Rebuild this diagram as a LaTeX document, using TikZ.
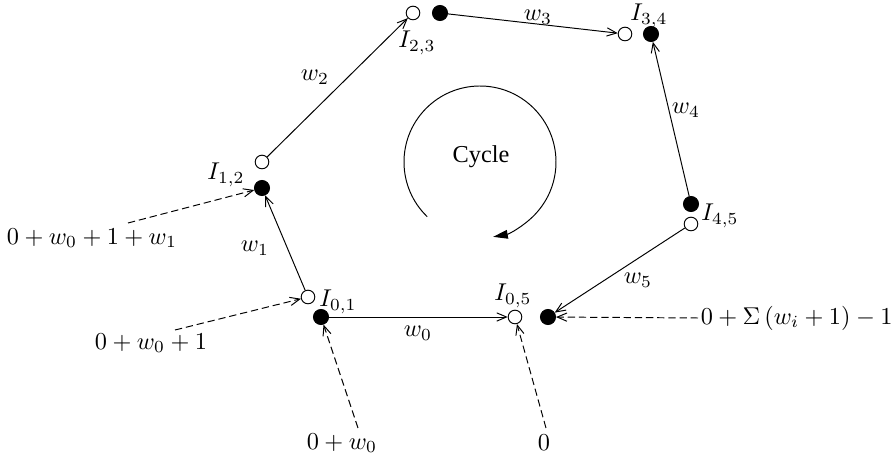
\documentclass[tikz,border=0pt]{standalone}
\usepackage[no-math]{fontspec}
\newfontfamily\cyclefont{Liberation Serif}
\usepackage{tikz}
\usetikzlibrary{arrows.meta}

\begin{document}
\begin{tikzpicture}[x=0.4115pt, y=-0.4115pt,
  fulldot/.style={circle, draw, fill=black, inner sep=0pt, minimum size=6.2pt},
  opendot/.style={circle, draw, fill=white, inner sep=0pt, minimum size=5.6pt},
  wedge/.style={thin, -{Straight Barb[length=4pt,width=3.4pt]}},
  hint/.style={thin, dash pattern=on 3pt off 1.6pt, -{Straight Barb[length=4pt,width=3.4pt]}},
  lbl/.style={inner sep=1pt}]
\useasboundingbox (0,0) rectangle (893,460);
% Vertices
\node[fulldot] (i01f) at (321,317) {};
\node[opendot] (i01o) at (308,297) {};
\node[fulldot] (i12f) at (262,188) {};
\node[opendot] (i12o) at (262,162) {};
\node[opendot] (i23o) at (413,13) {};
\node[fulldot] (i23f) at (440,13) {};
\node[opendot] (i34o) at (625,34) {};
\node[fulldot] (i34f) at (651,34) {};
\node[fulldot] (i45f) at (691,204) {};
\node[opendot] (i45o) at (691,224) {};
\node[opendot] (i05o) at (515,317) {};
\node[fulldot] (i05f) at (548,317) {};
% Vertex names
\node[lbl] at (338,302) {$I_{0,1}$};
\node[lbl] at (226,175) {$I_{1,2}$};
\node[lbl] at (417,43) {$I_{2,3}$};
\node[lbl] at (649,16) {$I_{3,4}$};
\node[lbl] at (720,216) {$I_{4,5}$};
\node[lbl] at (513,296) {$I_{0,5}$};
% Weighted edges
\draw[wedge] (i01f) -- (i05o);
\draw[wedge] (i01o) -- (i12f);
\draw[wedge] (i12o) -- (i23o);
\draw[wedge] (i23f) -- (i34o);
\draw[wedge] (i45f) -- (i34f);
\draw[wedge] (i45o) -- (i05f);
\node[lbl] at (418,333) {$w_0$};
\node[lbl] at (255,248) {$w_1$};
\node[lbl] at (315,77) {$w_2$};
\node[lbl] at (538,17) {$w_3$};
\node[lbl] at (686,110) {$w_4$};
\node[lbl] at (638,280) {$w_5$};
% Offsets
\node[lbl] (off12) at (92,238) {$0+w_0+1+w_1$};
\node[lbl] (off01) at (151,343) {$0+w_0+1$};
\node[lbl] (off0w) at (342,443) {$0+w_0$};
\node[lbl] (off0) at (544,443) {$0$};
\node[lbl, anchor=west] (offsum) at (698,318) {$0+\Sigma\left(w_i+1\right)-1$};
\coordinate (s12) at (128,223);
\coordinate (s01) at (175,330);
\coordinate (s0w) at (358,428);
\coordinate (s0) at (546,428);
\draw[hint] (s12) -- (i12f);
\draw[hint] (s01) -- (i01o);
\draw[hint] (s0w) -- (i01f);
\draw[hint] (s0) -- (i05o);
\draw[hint] (offsum.west) -- (i05f);
% Cycle arrow
\node (cyc) at (481,157) {\cyclefont Cycle};
\draw[thin, -{Triangle[length=6pt,width=3.6pt]}] (480,162) ++(134:76) arc[start angle=134, end angle=440, radius=76];
\end{tikzpicture}
\end{document}
